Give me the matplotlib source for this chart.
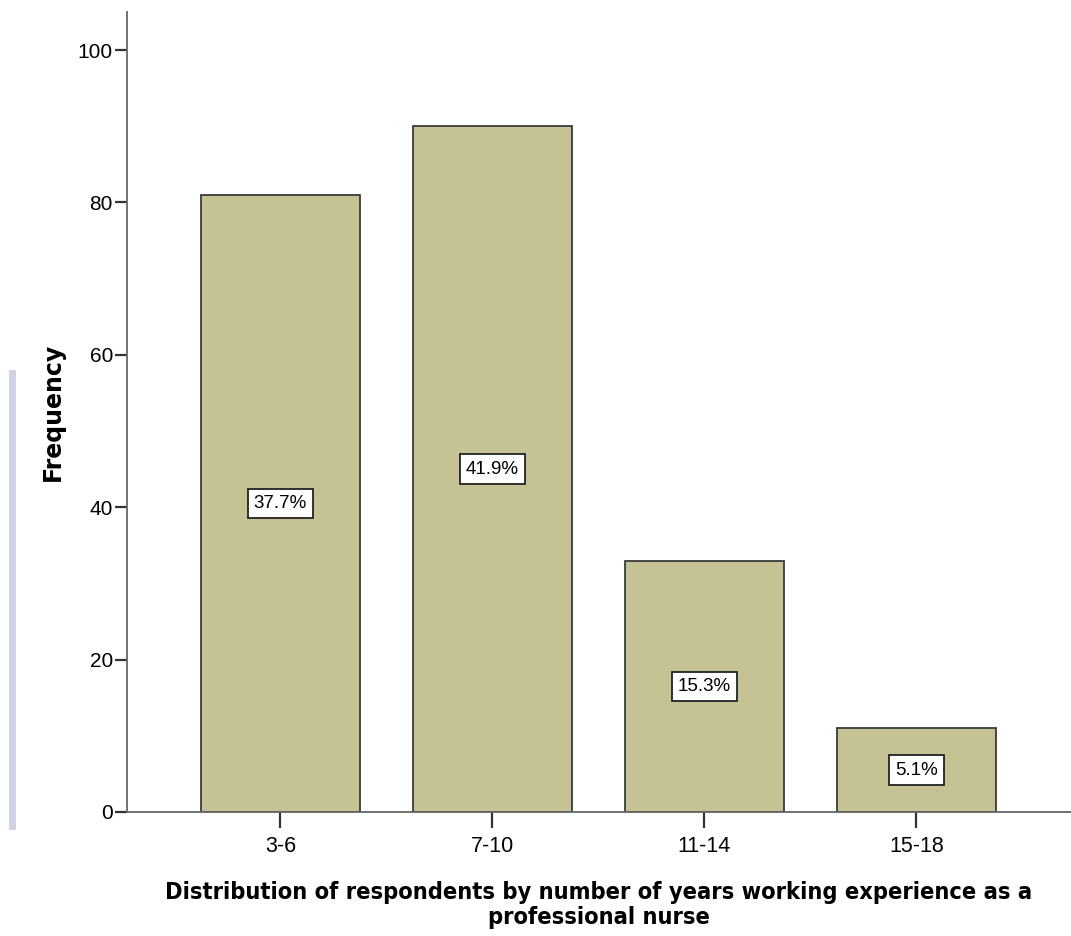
import matplotlib.pyplot as plt
import numpy as np
from matplotlib.patches import Rectangle

plt.rcParams['font.family'] = ['Liberation Sans', 'DejaVu Sans']

# survey data
categories = ['3-6', '7-10', '11-14', '15-18']
frequency = [81, 90, 33, 11]
percent_labels = ['37.7%', '41.9%', '15.3%', '5.1%']

fig = plt.figure(figsize=(10.71, 9.36), dpi=100)
ax = fig.add_axes([0.1186, 0.1325, 0.8814, 0.8547])

x = np.arange(len(categories))
ax.bar(x, frequency, width=0.75, color='#c5c294', edgecolor='#3a3a3a', linewidth=1.3)

# percentage boxes in the middle of each bar
for xi, f, lab in zip(x, frequency, percent_labels):
   ax.text(xi, f / 2, lab, ha='center', va='center', fontsize=13.5,
           bbox=dict(boxstyle='square,pad=0.33', facecolor='white', edgecolor='#222222', linewidth=1.3))

ax.set_xlim(-0.724, 3.73)
ax.set_ylim(0, 105)
ax.set_yticks([0, 20, 40, 60, 80, 100])
ax.set_xticks(x)
ax.set_xticklabels(categories)

for s in ['top', 'right']:
   ax.spines[s].set_visible(False)
for s in ['left', 'bottom']:
   ax.spines[s].set_color('#666666')
   ax.spines[s].set_linewidth(1.3)

ax.tick_params(axis='y', length=8.6, width=1.6, color='#333333', pad=1.5, labelsize=15)
ax.tick_params(axis='x', length=11.5, width=1.6, color='#333333', pad=6, labelsize=15.5)

ax.set_ylabel('Frequency', labelpad=9, family='DejaVu Sans', fontweight='bold', fontsize=17)
ax.set_xlabel('Distribution of respondents by number of years working experience as a\nprofessional nurse',
              labelpad=17, linespacing=1.12, family='DejaVu Sans', stretch='condensed',
              fontweight='bold', fontsize=16.9)

# faint scan artifact on the left edge
fig.patches.append(Rectangle((9 / 1071, 1 - 830 / 936), 7 / 1071, 460 / 936,
                             transform=fig.transFigure, facecolor='#c6c6e0', edgecolor='none', alpha=0.8))

plt.savefig('out.png', dpi=100)
